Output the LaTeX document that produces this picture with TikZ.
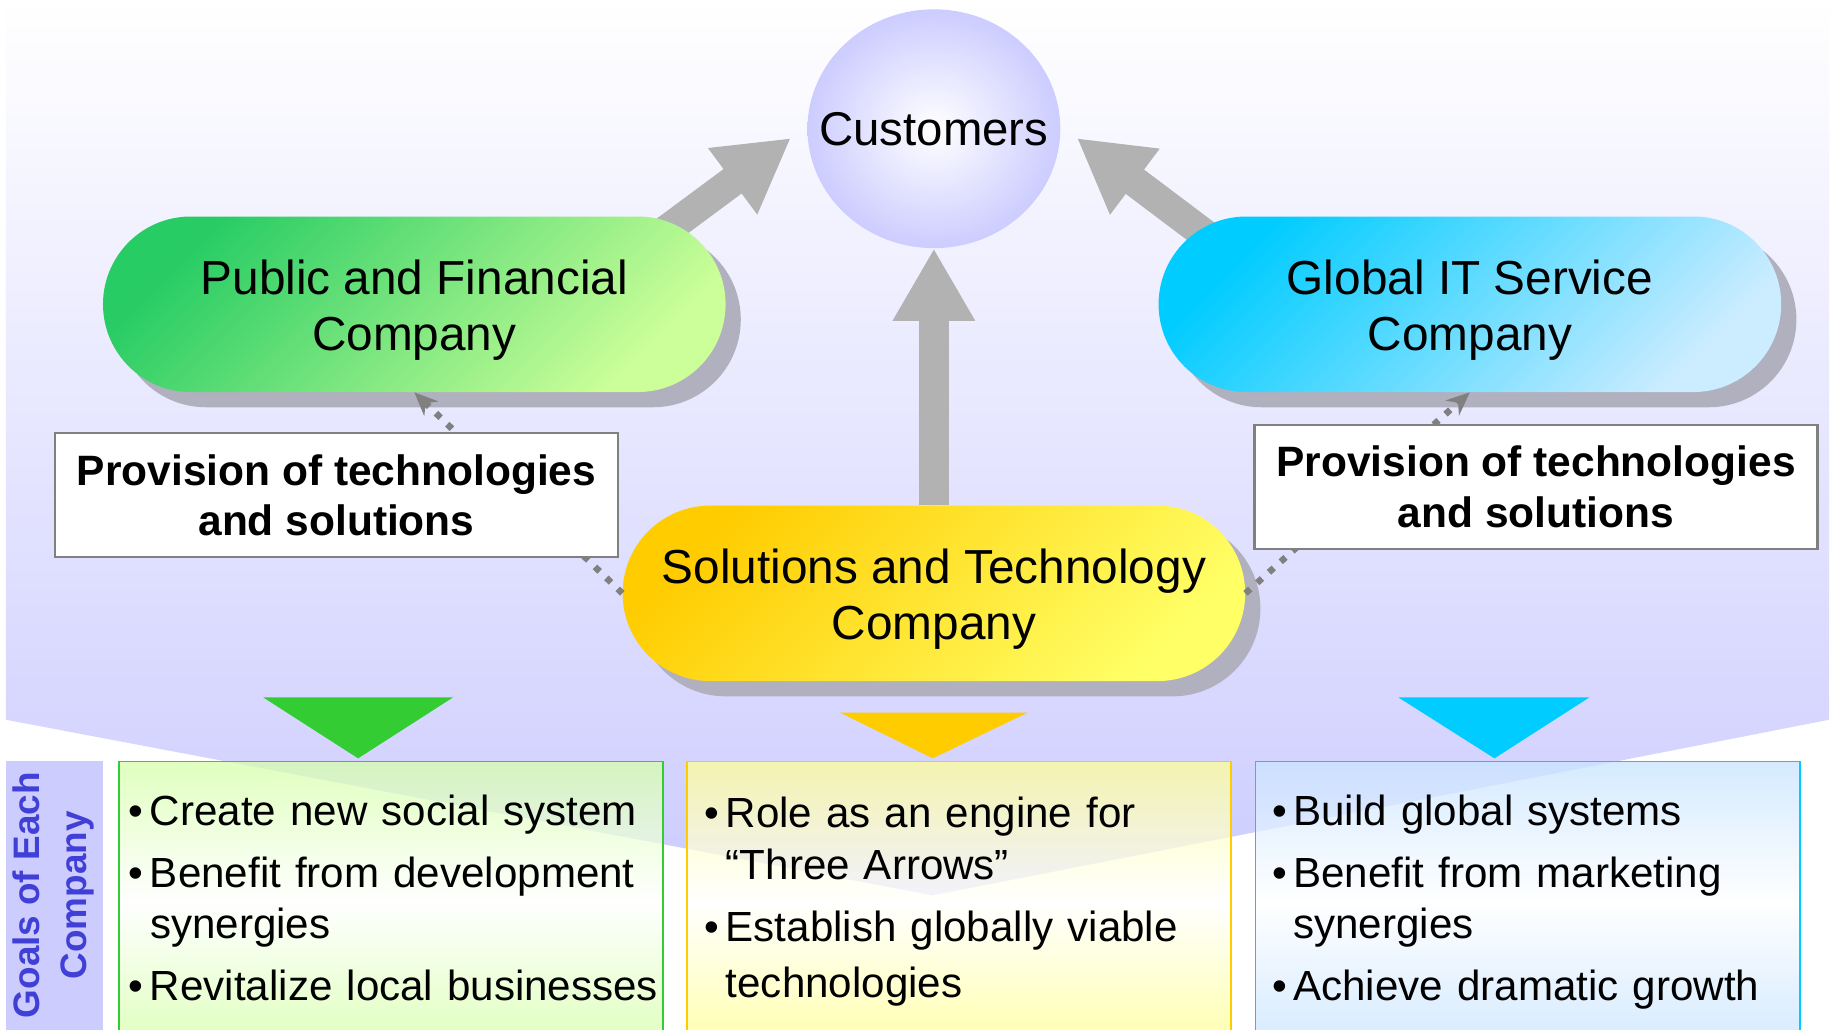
\documentclass[tikz,border=0pt]{standalone}
\usepackage{fontspec}
\setmainfont{Liberation Sans}
\usepackage{tikz}
\usepackage{xcolor}
\usetikzlibrary{positioning, arrows.meta, shapes.geometric, shadows}

\definecolor{lav}{RGB}{204,204,255}
\definecolor{goalblue}{RGB}{64,64,214}
\definecolor{arrowgrey}{RGB}{178,178,178}
\definecolor{pillshade}{RGB}{176,176,190}
\definecolor{dotgrey}{RGB}{128,128,128}
\definecolor{pfgreen}{RGB}{40,204,100}
\definecolor{pflime}{RGB}{204,255,153}
\definecolor{itblue}{RGB}{0,204,255}
\definecolor{itpale}{RGB}{204,236,255}
\definecolor{stgold}{RGB}{255,204,0}
\definecolor{stlemon}{RGB}{255,255,102}
\definecolor{trigreen}{RGB}{51,204,51}
\definecolor{greenpale}{RGB}{214,255,170}
\definecolor{yellowpale}{RGB}{255,255,150}
\definecolor{bluepale}{RGB}{200,228,255}

\pgfdeclarelayer{bg}
\pgfdeclarelayer{back}
\pgfsetlayers{bg,back,main}

\newcommand{\goalitem}[1]{\hangindent=18pt\hangafter=1\makebox[18pt][l]{\textbullet}#1\par}
\newcommand{\pillstrut}{\rule{0pt}{40pt}}

\begin{document}
\begin{tikzpicture}[x=1pt, y=-1pt, node distance = 2 cm]
        \tikzset{company/.style 2 args={top color=#1, bottom color=#2, shading angle=45,
                rounded corners=75pt, minimum width=532pt, minimum height=150pt,
                align=center, font=\fontsize{40.8}{48}\selectfont,
                drop shadow={shadow xshift=13pt, shadow yshift=-13pt, fill=pillshade, opacity=1}}}
        \tikzset{provbox/.style={draw=dotgrey, line width=2pt, fill=white,
                minimum width=481pt, minimum height=106pt, align=center,
                font=\bfseries\fontsize{36.3}{43}\selectfont}}
        \tikzset{goalbox/.style 2 args={draw=#1, line width=1.5pt, top color=#2, bottom color=#2,
                middle color=white, fill opacity=0.75, minimum width=465pt, minimum height=240pt,
                anchor=north west}}
        \tikzset{goaltext/.style={text width=455pt, align=left, inner sep=0pt,
                font=\fontsize{36}{44}\selectfont, execute at begin node={\setlength{\parskip}{9pt}}}}
        \tikzset{bigarrow/.style={arrowgrey, line width=26pt, -{Triangle[width=66pt, length=62pt]}}}
        \tikzset{supply/.style={dotgrey, line width=5.5pt, dash pattern=on 5.5pt off 8pt,
                -{Stealth[length=20pt, width=17pt]}}}

        \useasboundingbox (0,0) rectangle (1568,880);

        % backdrop
        \begin{pgfonlayer}{bg}
        \fill[white] (0,0) rectangle (1568,880);
        \shade[top color=white, bottom color=lav] (5,0) -- (1563,0) -- (1563,615) -- (797,765) -- (5,615) -- cycle;
        \end{pgfonlayer}

        % companies
        \node[ellipse, minimum width=216pt, minimum height=204pt, inner sep=0pt, inner color=white, outer color=lav,
              font=\fontsize{40.5}{48}\selectfont] (cust) at (798,110) {\makebox[0pt]{Customers}};
        \node[company={pfgreen}{pflime}] (public) at (354,260) {\pillstrut Public and Financial\\Company};
        \node[company={itblue}{itpale}] (global) at (1256,260) {\pillstrut Global IT Service\\Company};
        \node[company={stgold}{stlemon}] (tech) at (798,507) {\pillstrut Solutions and Technology\\Company};

        \begin{pgfonlayer}{back}
        \draw[bigarrow] ([shift={(-75pt,-30pt)}]public.north east) -- ([shift={(-14pt,-8pt)}]cust.west);
        \draw[bigarrow] ([shift={(59pt,-30pt)}]global.north west) -- ([shift={(14pt,-8pt)}]cust.east);
        \draw[bigarrow] (tech.north) -- (cust.south);
        \end{pgfonlayer}

        \draw[supply] (tech.west) -- (public.south);
        \draw[supply] (tech.east) -- (global.south);

        \node[provbox] (provL) at (287.5,423) {Provision of technologies\\and solutions};
        \node[provbox] (provR) at (1312.5,416) {Provision of technologies\\and solutions};

        % goals
        \node[goalbox={trigreen}{greenpale}] (goalpf) at (101,650) {};
        \node[goalbox={stgold}{yellowpale}] (goalst) at (586,650) {};
        \node[goalbox={itblue}{bluepale}] (goalit) at (1072,650) {};

        \fill[trigreen] (225,596) -- (387,596) -- (306,648) -- cycle;
        \fill[stgold] (718,609) -- (878,609) -- (797,648) -- cycle;
        \fill[itblue] (1195,596) -- (1358,596) -- (1277,648) -- cycle;

        \node[fill=lav, minimum width=83pt, minimum height=240pt, anchor=north west] (goalhead) at (5,650) {};
        \node[rotate=90, align=center, text=goalblue, font=\bfseries\fontsize{31.5}{40}\selectfont]
              at (46,765) {Goals of Each\\Company};

        \node[goaltext, below right=29pt and 9pt of goalpf.north west] (textpf)
              {\goalitem{Create new social system}\goalitem{Benefit from development\newline synergies}\goalitem{Revitalize local businesses}};
        \node[goaltext, below right=31pt and 16pt of goalst.north west] (textst)
              {\goalitem{Role as an engine for\newline ``Three Arrows''}\goalitem{Establish globally viable\newline\rule{0pt}{40pt}technologies}};
        \node[goaltext, below right=29pt and 15pt of goalit.north west] (textit)
              {\goalitem{Build global systems}\goalitem{Benefit from marketing\newline synergies}\goalitem{Achieve dramatic growth}};
\end{tikzpicture}
\end{document}
